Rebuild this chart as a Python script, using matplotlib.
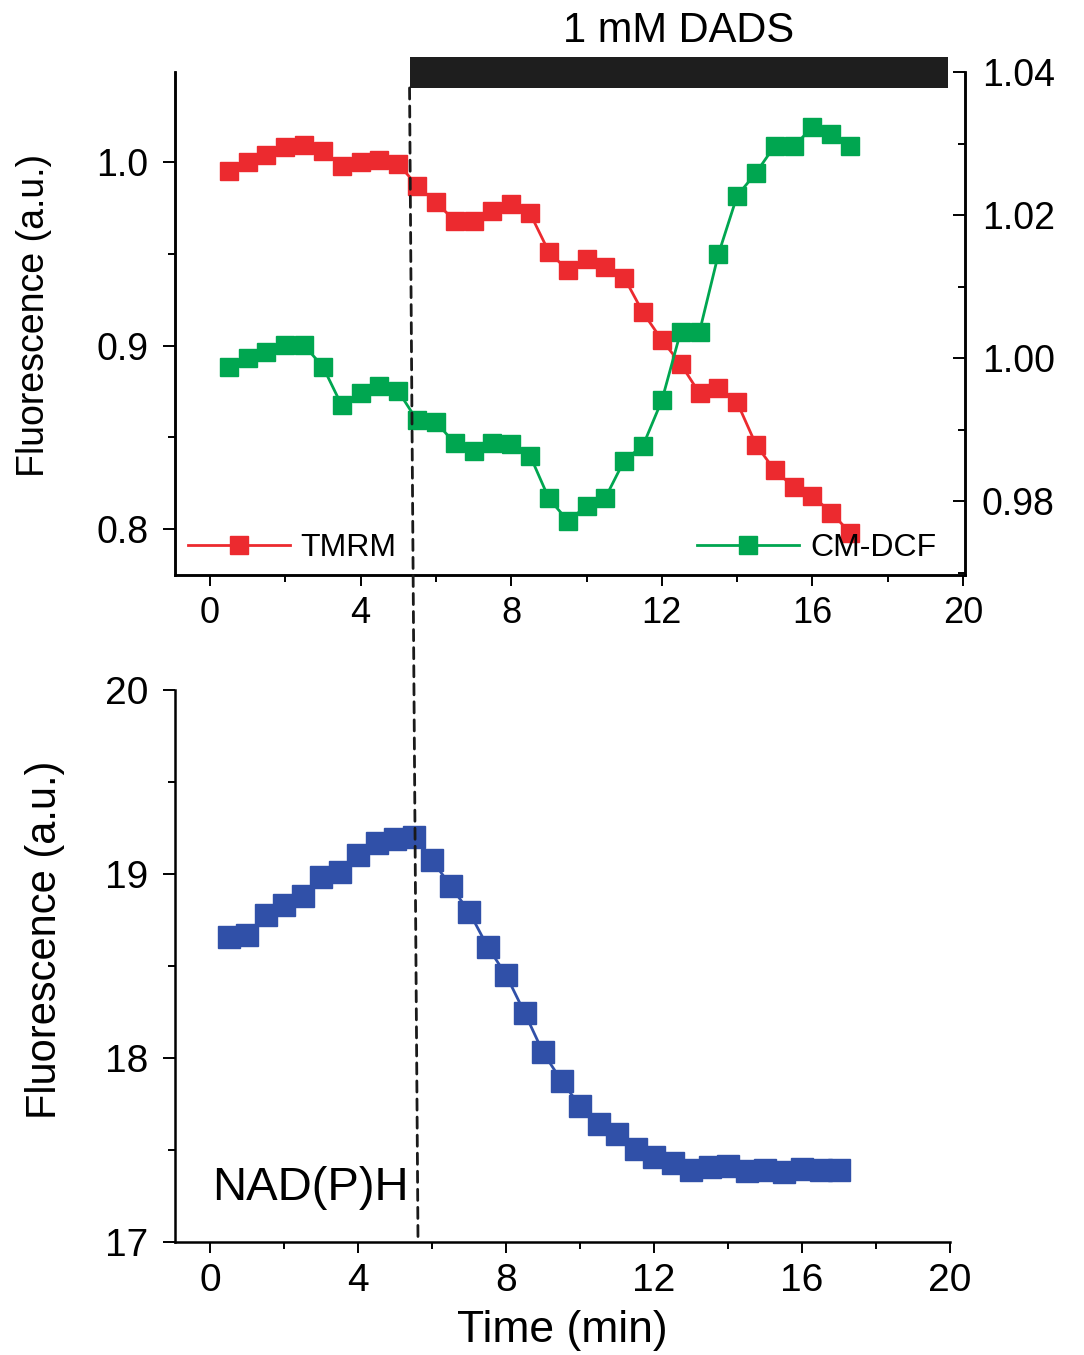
import matplotlib.pyplot as plt
from matplotlib.lines import Line2D
from matplotlib.patches import Rectangle, ConnectionPatch

plt.rcParams['font.family'] = ['Liberation Sans', 'DejaVu Sans']

# time points (min)
time = [0.5, 1.0, 1.5, 2.0, 2.5, 3.0, 3.5, 4.0, 4.5, 5.0, 5.5, 6.0,
        6.5, 7.0, 7.5, 8.0, 8.5, 9.0, 9.5, 10.0, 10.5, 11.0, 11.5, 12.0,
        12.5, 13.0, 13.5, 14.0, 14.5, 15.0, 15.5, 16.0, 16.5, 17.0]

tmrm = [0.995, 1.000, 1.004, 1.008, 1.009, 1.006, 0.998, 1.000, 1.001, 0.999,
        0.987, 0.978, 0.968, 0.968, 0.973, 0.977, 0.972, 0.951, 0.941, 0.947,
        0.943, 0.937, 0.918, 0.903, 0.890, 0.874, 0.877, 0.869, 0.846, 0.832,
        0.823, 0.818, 0.809, 0.798]

cmdcf = [0.9988, 1.0000, 1.0008, 1.0018, 1.0018, 0.9988, 0.9934, 0.9951,
         0.9961, 0.9954, 0.9913, 0.9911, 0.9881, 0.9870, 0.9881, 0.9880,
         0.9864, 0.9804, 0.9773, 0.9793, 0.9805, 0.9857, 0.9878, 0.9941,
         1.0037, 1.0037, 1.0145, 1.0227, 1.0259, 1.0297, 1.0296, 1.0323,
         1.0313, 1.0296]

nadph = [18.656, 18.668, 18.777, 18.832, 18.880, 18.985, 19.013, 19.103,
         19.170, 19.188, 19.199, 19.076, 18.935, 18.795, 18.605, 18.451,
         18.246, 18.031, 17.875, 17.739, 17.641, 17.585, 17.505, 17.460,
         17.428, 17.391, 17.409, 17.415, 17.388, 17.391, 17.382, 17.395,
         17.391, 17.391]

# DADS application window (min)
dads_start, dads_end = 5.3, 19.6
dads_start_bottom = 5.62

red = '#EC2A2F'
green = '#00A650'
blue = '#3050A8'

fig = plt.figure(figsize=(10.84, 13.55), dpi=100)
ax1 = fig.add_axes([0.1614, 0.5756, 0.7288, 0.3713])
ax1b = ax1.twinx()
ax2 = fig.add_axes([0.1614, 0.0834, 0.7150, 0.4074])

# ---- top panel ----
ax1.plot(time, tmrm, '-s', color=red, lw=2.0, ms=13.5, mec=red, zorder=3)
ax1b.plot(time, cmdcf, '-s', color=green, lw=2.0, ms=13.5, mec=green, zorder=3)
ax1.set_xlim(-0.93, 20.05)
ax1.set_ylim(0.775, 1.049)
ax1b.set_ylim(0.9697, 1.04)
ax1.set_xticks([0, 4, 8, 12, 16, 20])
ax1.set_xticks([2, 6, 10, 14, 18], minor=True)
ax1.set_yticks([0.8, 0.9, 1.0])
ax1.set_yticklabels(['0.8', '0.9', '1.0'])
ax1.set_yticks([0.85, 0.95], minor=True)
ax1b.set_yticks([0.98, 1.00, 1.02, 1.04])
ax1b.set_yticklabels(['0.98', '1.00', '1.02', '1.04'])
ax1b.set_yticks([0.97, 0.99, 1.01, 1.03], minor=True)

for a in (ax1, ax1b):
    a.spines['top'].set_visible(False)
    for s in a.spines.values():
        s.set_linewidth(1.8)
ax1.tick_params(axis='x', which='both', direction='out', width=1.4, labelsize=26, pad=7)
ax1.tick_params(axis='x', which='major', length=8)
ax1.tick_params(axis='x', which='minor', length=5)
ax1.tick_params(axis='y', which='both', direction='out', width=1.4, labelsize=27, pad=10)
ax1.tick_params(axis='y', which='major', length=9)
ax1.tick_params(axis='y', which='minor', length=5)
ax1b.tick_params(axis='y', which='both', direction='in', width=1.4, labelsize=27, pad=12)
ax1b.tick_params(axis='y', which='major', length=9)
ax1b.tick_params(axis='y', which='minor', length=5)

ax1.set_ylabel('Fluorescence (a.u.)', fontsize=27, va='center')
ax1.yaxis.set_label_coords(-0.178, 0.517)

# legends
h_tmrm = Line2D([], [], color=red, lw=2.0, marker='s', ms=13.5)
h_dcf = Line2D([], [], color=green, lw=2.0, marker='s', ms=13.5)
leg_kw = dict(frameon=False, fontsize=23, handlelength=3.2, handletextpad=0.33,
              borderpad=0, borderaxespad=0)
leg1 = ax1b.legend([h_tmrm], ['TMRM'], loc='center left',
                   bbox_to_anchor=(0.016, 0.054), **leg_kw)
ax1b.add_artist(leg1)
ax1b.legend([h_dcf], ['CM-DCF'], loc='center left',
            bbox_to_anchor=(0.661, 0.054), **leg_kw)

# DADS bar and label
ax1.add_patch(Rectangle((dads_start, 1.0403), dads_end - dads_start, 0.0169,
                        facecolor='#1e1e1e', edgecolor='none', clip_on=False, zorder=5))
ax1.text((dads_start + dads_end) / 2, 1.0715, '1 mM DADS', ha='center', va='center',
         fontsize=30, clip_on=False)

# ---- bottom panel ----
ax2.plot(time, nadph, '-s', color=blue, lw=2.0, ms=15.5, mec=blue, zorder=3)
ax2.set_xlim(-0.95, 20.0)
ax2.set_ylim(17, 20)
ax2.set_xticks([0, 4, 8, 12, 16, 20])
ax2.set_xticks([2, 6, 10, 14, 18], minor=True)
ax2.set_yticks([17, 18, 19, 20])
ax2.set_yticks([17.5, 18.5, 19.5], minor=True)
ax2.spines['top'].set_visible(False)
ax2.spines['right'].set_visible(False)
for s in ax2.spines.values():
    s.set_linewidth(1.8)
ax2.tick_params(axis='both', which='both', direction='out', width=1.4, labelsize=28)
ax2.tick_params(axis='x', which='major', length=8, pad=7)
ax2.tick_params(axis='x', which='minor', length=5)
ax2.tick_params(axis='y', which='major', length=9, pad=10)
ax2.tick_params(axis='y', which='minor', length=5)
ax2.set_xlabel('Time (min)', fontsize=32, labelpad=8)
ax2.set_ylabel('Fluorescence (a.u.)', fontsize=30, va='center')
ax2.yaxis.set_label_coords(-0.168, 0.547)
ax2.text(0.05, 17.23, 'NAD(P)H', fontsize=34, ha='left', va='baseline')

# dashed line marking DADS addition, spanning both panels
con = ConnectionPatch(xyA=(dads_start, 1.0403), coordsA=ax1.transData,
                      xyB=(dads_start_bottom, 17.0), coordsB=ax2.transData,
                      color='#1a1a1a', lw=2.0, linestyle=(0, (4, 2.5)))
fig.add_artist(con)

plt.savefig('out.png', dpi=100)
